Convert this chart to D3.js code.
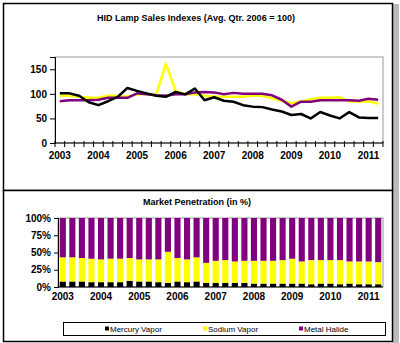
<!DOCTYPE html>
<html><head><meta charset="utf-8">
<script src="https://cdn.jsdelivr.net/npm/d3@7"></script>
<style>body{margin:0;background:#fff}svg{display:block;font-family:"Liberation Sans",Arial,sans-serif}</style>
</head><body><svg id="c" width="400" height="343"></svg>
<script>
const quarters = ["2003Q1","2003Q2","2003Q3","2003Q4","2004Q1","2004Q2","2004Q3","2004Q4","2005Q1","2005Q2","2005Q3","2005Q4","2006Q1","2006Q2","2006Q3","2006Q4","2007Q1","2007Q2","2007Q3","2007Q4","2008Q1","2008Q2","2008Q3","2008Q4","2009Q1","2009Q2","2009Q3","2009Q4","2010Q1","2010Q2","2010Q3","2010Q4","2011Q1","2011Q2"];
const yearLabels = ["2003","2004","2005","2006","2007","2008","2009","2010","2011"];
const mercuryIdx = [101,101,96,83,77,85,94,112,106,101,96,94,104,99,111,87,93,86,84,77,74,73,68,64,57,59,50,63,56,50,63,52,51,51];
const sodiumIdx  = [96,96,94,92,92,96,96,94,99,99,99,161,106,99,99,96,94,94,94,94,96,96,91,86,81,84,89,92,92,93,85,84,85,80];
const metalIdx   = [85,87,87,87,88,92,92,92,101,99,97,96,99,99,103,104,103,99,102,100,100,100,97,88,74,84,84,87,87,87,87,86,90,88];
const mercuryPct = [8,8,8,7,7,7,7,9,8,8,7,6,8,7,8,6,6,6,6,6,5,5,5,5,5,5,4,5,5,4,5,4,4,4];
const sodiumPct  = [35,35,34,34,33,34,34,33,32,32,33,45,34,33,35,29,32,33,31,32,33,33,33,34,36,32,35,34,34,35,32,33,33,32];
const yTicksTop = [0,50,100,150];
const yTicksPct = [0,25,50,75,100];
const seriesNames = ["Mercury Vapor","Sodium Vapor","Metal Halide"];
const colors = ["#000000","#ffff00","#800080"];

const svg = d3.select("#c");
const fontBold = "bold 10px 'Liberation Sans', Arial, sans-serif";

// frames
svg.append("rect").attr("x",393).attr("y",4).attr("width",6).attr("height",339).attr("fill","#bbb");
svg.append("rect").attr("x",3.5).attr("y",3.5).attr("width",389).attr("height",187).attr("fill","#fff").attr("stroke","#000").attr("stroke-width",1.5);
svg.append("rect").attr("x",3.5).attr("y",190.5).attr("width",389).attr("height",151).attr("fill","#fff").attr("stroke","#000").attr("stroke-width",1.5);

// ---------- Top chart ----------
const T = {l:55,r:383,t:57,b:143};
const xb = d3.scaleBand().domain(quarters).range([T.l,T.r]);
const yT = d3.scaleLinear().domain([0,175]).range([T.b,T.t]);
svg.append("text").attr("x",196).attr("y",21).attr("text-anchor","middle")
  .style("font","bold 9px 'Liberation Sans', Arial, sans-serif").attr("textLength",198).text("HID Lamp Sales Indexes (Avg. Qtr. 2006 = 100)");
svg.append("rect").attr("x",T.l).attr("y",T.t).attr("width",T.r-T.l).attr("height",T.b-T.t).attr("fill","none").attr("stroke","#999").attr("stroke-width",1);
const gy = svg.append("g").attr("transform",`translate(${T.l},0)`)
  .call(d3.axisLeft(yT).tickValues(yTicksTop).tickSize(5).tickPadding(3));
gy.select(".domain").attr("stroke","#000");
gy.selectAll("text").style("font",fontBold).attr("fill","#000");
// x axis line & ticks at band boundaries
svg.append("line").attr("x1",T.l).attr("x2",T.r).attr("y1",T.b).attr("y2",T.b).attr("stroke","#000");
const bounds = quarters.map(q=>xb(q)).concat([T.r]);
svg.append("g").selectAll("line").data(bounds).join("line")
  .attr("x1",d=>d).attr("x2",d=>d).attr("y1",T.b-2).attr("y2",T.b+4).attr("stroke","#000");
svg.append("g").selectAll("text").data(yearLabels).join("text")
  .attr("x",(d,i)=>xb(quarters[i*4])+xb.bandwidth()/2).attr("y",T.b+16).attr("text-anchor","middle")
  .style("font",fontBold).text(d=>d);
const line = d3.line().x((d,i)=>xb(quarters[i])+xb.bandwidth()/2).y(d=>yT(d));
[sodiumIdx, metalIdx, mercuryIdx].forEach((s,k)=>{
  const c = [colors[1],colors[2],colors[0]][k];
  svg.append("path").datum(s).attr("d",line).attr("fill","none").attr("stroke",c).attr("stroke-width",2.5).attr("stroke-linejoin","round");
});

// ---------- Bottom chart ----------
const B = {l:58,r:383,t:218,b:287};
const xb2 = d3.scaleBand().domain(quarters).range([B.l,B.r]).paddingInner(0.36).paddingOuter(0.18);
const yB = d3.scaleLinear().domain([0,100]).range([B.b,B.t]);
svg.append("text").attr("x",197).attr("y",205).attr("text-anchor","middle")
  .style("font","bold 9px 'Liberation Sans', Arial, sans-serif").text("Market Penetration (in %)");
svg.append("rect").attr("x",B.l).attr("y",B.t).attr("width",B.r-B.l).attr("height",B.b-B.t).attr("fill","none").attr("stroke","#999");
const rows = quarters.map((q,i)=>({q, m:mercuryPct[i], s:sodiumPct[i], h:100-mercuryPct[i]-sodiumPct[i]}));
const stack = d3.stack().keys(["m","s","h"])(rows);
svg.append("g").selectAll("g").data(stack).join("g").attr("fill",(d,i)=>colors[i])
  .selectAll("rect").data(d=>d).join("rect")
  .attr("x",d=>xb2(d.data.q)).attr("width",xb2.bandwidth())
  .attr("y",d=>yB(d[1])).attr("height",d=>yB(d[0])-yB(d[1]));
const gy2 = svg.append("g").attr("transform",`translate(${B.l},0)`)
  .call(d3.axisLeft(yB).tickValues(yTicksPct).tickFormat(d=>d+"%").tickSize(4).tickPadding(3));
gy2.select(".domain").attr("stroke","#000");
gy2.selectAll("text").style("font",fontBold).attr("fill","#000");
svg.append("line").attr("x1",B.l).attr("x2",B.r).attr("y1",B.b).attr("y2",B.b).attr("stroke","#000");
svg.append("g").selectAll("text").data(yearLabels).join("text")
  .attr("x",(d,i)=>xb2(quarters[i*4])+xb2.bandwidth()/2).attr("y",B.b+13).attr("text-anchor","middle")
  .style("font",fontBold).text(d=>d);

// legend
svg.append("rect").attr("x",63.5).attr("y",322.5).attr("width",322).attr("height",13).attr("fill","#fff").attr("stroke","#000");
const lx = [105,203,299];
const lg = svg.append("g").selectAll("g").data(seriesNames).join("g").attr("transform",(d,i)=>`translate(${lx[i]},329)`);
lg.append("rect").attr("x",0).attr("y",-2.5).attr("width",4).attr("height",4).attr("fill",(d,i)=>colors[i]);
lg.append("text").attr("x",5).attr("y",3).style("font","8px 'Liberation Sans', Arial, sans-serif").text(d=>d);
</script></body></html>
